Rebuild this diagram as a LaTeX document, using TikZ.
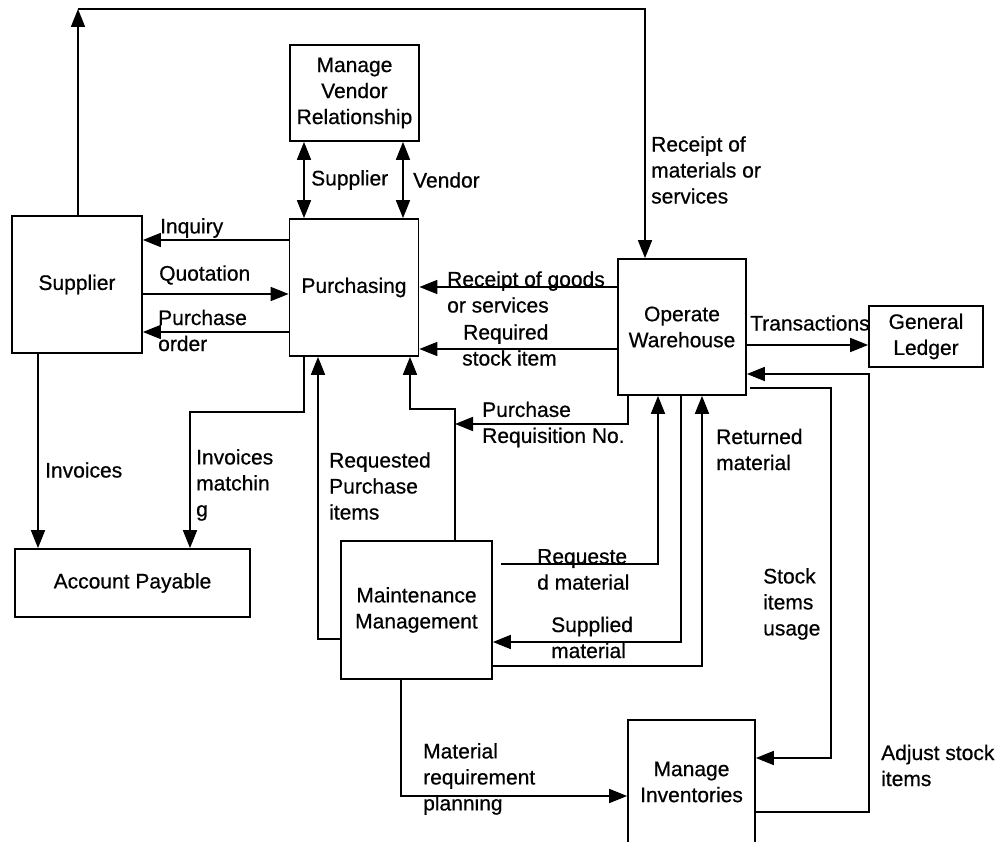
\documentclass[tikz,border=0pt]{standalone}
\usepackage{fontspec}
\setmainfont{Liberation Sans}[FakeBold=0.6]
\usetikzlibrary{arrows.meta}
\newcommand\dfont{\fontsize{21}{26}\selectfont}
\begin{document}
\begin{tikzpicture}[x=1pt,y=-1pt,
  box/.style={draw, line width=1.7pt, inner sep=0pt, align=center, font=\dfont},
  flow/.style={line width=1.7pt, -{Triangle[length=18pt,width=14pt]}},
  both/.style={line width=1.7pt, {Triangle[length=18pt,width=14pt]}-{Triangle[length=18pt,width=14pt]}},
  lbl/.style={anchor=west, inner sep=0pt, align=left, font=\dfont}]
\clip (0,0) rectangle (999,842);

% processes and external entities
\node[box, minimum width=129pt, minimum height=96pt]  (mvr) at (354.5,93)  {Manage\\Vendor\\Relationship};
\node[box, minimum width=130pt, minimum height=137pt] (sup) at (77,284.5)  {Supplier};
\node[box, minimum width=129pt, minimum height=137pt] (pur) at (354,287.5) {Purchasing};
\node[box, minimum width=128pt, minimum height=136pt] (ow)  at (682,327)   {Operate\\Warehouse};
\node[box, minimum width=114pt, minimum height=61pt]  (gl)  at (926,336.5) {General\\Ledger};
\node[box, minimum width=235pt, minimum height=68pt]  (ap)  at (132.5,583) {Account Payable};
\node[box, minimum width=151pt, minimum height=138pt] (mm)  at (416.5,610) {Maintenance\\Management};
\node[box, minimum width=127pt, minimum height=124pt] (mi)  at (691.5,782) {Manage\\Inventories};

% bend points
\coordinate (tl) at (78,9);
\coordinate (tr) at (645,9);
\coordinate (prq) at (455,424);

% data flows
\draw[flow] (tl |- sup.north) -- (tl);
\draw[flow] (tl) -- (tr) -- (tr |- ow.north);
\draw[both] (304,0 |- mvr.south) -- (304,0 |- pur.north);
\draw[both] (403,0 |- mvr.south) -- (403,0 |- pur.north);
\draw[flow] (pur.west |- 0,240) -- (sup.east |- 0,240);
\draw[flow] (sup.east |- 0,294) -- (pur.west |- 0,294);
\draw[flow] (pur.west |- 0,332) -- (sup.east |- 0,332);
\draw[flow] (38,0 |- sup.south) -- (38,0 |- ap.north);
\draw[flow] (304,0 |- pur.south) -- (304,412) -| (190,0 |- ap.north);
\draw[flow] (mm.west |- 0,639) -| (318,0 |- pur.south);
\draw[flow] (455,0 |- mm.north) |- (410,409) -- (410,0 |- pur.south);
\draw[flow] (628,0 |- ow.south) |- (prq);
\draw[flow] (ow.west |- 0,287) -- (pur.east |- 0,287);
\draw[flow] (ow.west |- 0,349) -- (pur.east |- 0,349);
\draw[flow] (ow.east |- 0,345) -- (gl.west |- 0,345);
\draw[flow] (mi.east |- 0,812) -| (869,374) -- (ow.east |- 0,374);
\draw[flow, shorten <=3pt] (ow.east |- 0,388) -| (831,758) -- (mi.east |- 0,758);
\draw[flow] (mm.east |- 0,666) -| (702,0 |- ow.south);
\draw[flow] (681,0 |- ow.south) |- (mm.east |- 0,642);
\draw[flow, shorten <=8pt] (mm.east |- 0,564) -| (658,0 |- ow.south);
\draw[flow] (401,0 |- mm.south) |- (mi.west |- 0,796);

% flow labels
\node[lbl] (lsup) at (311,180)   {Supplier};
\node[lbl] (lven) at (413,180)   {Vendor};
\node[lbl] (linq) at (160,228)   {Inquiry};
\node[lbl] (lquo) at (159,275)   {Quotation};
\node[lbl] (lpo)  at (158,330.5) {Purchase\\order};
\node[lbl] (linv) at (45,470)    {Invoices};
\node[lbl] (linm) at (196,485)   {Invoices\\matchin\\g};
\node[lbl] (lrpi) at (329,486)   {Requested\\Purchase\\items};
\node[lbl] (lrg)  at (447,292)   {Receipt of goods\\or services};
\node[lbl] (lrs)  at (462,345)   {\hspace*{1pt}Required\\stock item};
\node[lbl] (lrms) at (651,170)   {Receipt of\\materials or\\services};
\node[lbl] (ltr)  at (750,323)   {Transactions};
\node[lbl] (lprn) at (482,424.5) {Purchase\\Requisition No.};
\node[lbl] (lret) at (716,449.5) {Returned\\material};
\node[lbl] (lreq) at (537,569.5) {Requeste\\d material};
\node[lbl] (lspm) at (551,637.5) {Supplied\\material};
\node[lbl] (lsiu) at (763,604)   {Stock\\items\\usage};
\node[lbl] (ladj) at (881,765.5) {Adjust stock\\items};
\node[lbl] (lmrp) at (423,779)   {Material\\requirement\\planning};
\end{tikzpicture}
\end{document}
